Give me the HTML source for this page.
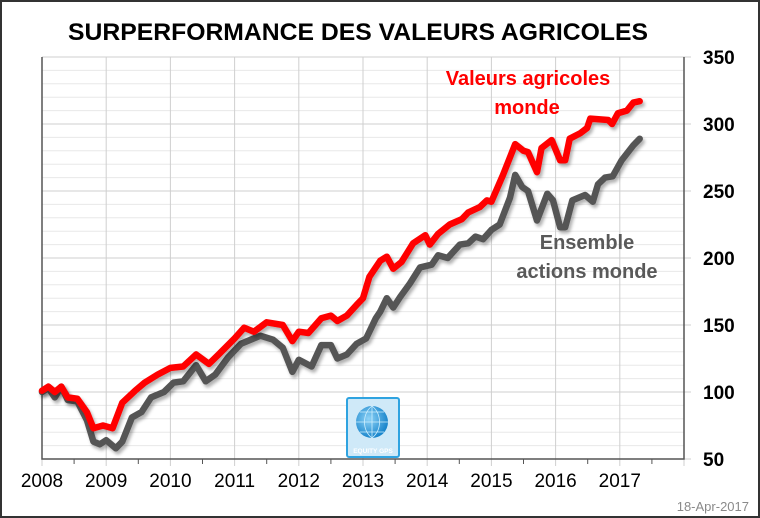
<!DOCTYPE html>
<html><head><meta charset="utf-8"><style>
body{margin:0;background:#fff;}
svg{display:block;font-family:"Liberation Sans",Arial,sans-serif;}
</style></head><body>
<svg id="chart" width="760" height="518" viewBox="0 0 760 518">
<defs><filter id="sh" x="-5%" y="-5%" width="110%" height="110%"><feDropShadow dx="2" dy="3" stdDeviation="1.5" flood-color="#000" flood-opacity="0.3"/></filter>
<radialGradient id="globe" cx="40%" cy="40%" r="60%"><stop offset="0" stop-color="#8fd3f7"/><stop offset="1" stop-color="#1a86cc"/></radialGradient></defs>
<rect x="1" y="1" width="758" height="516" fill="#fff" stroke="#333" stroke-width="2"/>
<text x="358" y="40" text-anchor="middle" font-size="24" font-weight="bold" fill="#000" textLength="580" lengthAdjust="spacingAndGlyphs">SURPERFORMANCE DES VALEURS AGRICOLES</text>
<g id="grid"></g><g id="axes"></g>
<g>
<rect x="347" y="398" width="52" height="59" rx="2" fill="#cfe9f8" stroke="#2fa3e0" stroke-width="2"/>
<circle cx="372" cy="422" r="16" fill="url(#globe)"/>
<path d="M356 422h32M372 406v32M360 412h24M360 432h24M372 406c-10 8-10 24 0 32M372 406c10 8 10 24 0 32" stroke="#cdeefd" stroke-width="0.8" fill="none"/>
<text x="373" y="453" text-anchor="middle" font-size="6.5" font-weight="bold" fill="#fff">EQUITY GPS</text></g>
<g id="series"></g>
<text x="528" y="85" text-anchor="middle" font-size="20" font-weight="bold" fill="#ff0000">Valeurs agricoles</text>
<text x="527" y="114" text-anchor="middle" font-size="20" font-weight="bold" fill="#ff0000">monde</text>
<text x="587" y="249" text-anchor="middle" font-size="20" font-weight="bold" fill="#595959">Ensemble</text>
<text x="587" y="278" text-anchor="middle" font-size="20" font-weight="bold" fill="#595959">actions monde</text>
<text x="749" y="511" text-anchor="end" font-size="13" fill="#8a8a8a">18-Apr-2017</text>
</svg>
<script>
const yTicks=[50,100,150,200,250,300,350];
const xYears=[2008,2009,2010,2011,2012,2013,2014,2015,2016,2017];
const agriX=[2008.0,2008.1,2008.2,2008.3,2008.4,2008.55,2008.7,2008.8,2008.95,2009.1,2009.25,2009.45,2009.6,2009.8,2010.0,2010.2,2010.4,2010.6,2010.75,2011.0,2011.15,2011.3,2011.5,2011.75,2011.9,2012.0,2012.15,2012.35,2012.5,2012.6,2012.75,2012.9,2013.0,2013.1,2013.27,2013.37,2013.47,2013.6,2013.78,2013.97,2014.04,2014.17,2014.35,2014.54,2014.64,2014.82,2014.93,2015.0,2015.18,2015.37,2015.5,2015.57,2015.71,2015.78,2015.94,2016.07,2016.15,2016.22,2016.38,2016.49,2016.54,2016.82,2016.88,2016.97,2017.11,2017.21,2017.31];
const agriY=[101,104,100,104,96,95,85,73,75,73,92,101,107,113,118,119,128,121,128,140,148,145,152,150,138,145,144,155,157,153,157,165,170,186,198,201,192,197,211,217,210,218,225,229,234,238,243,242,262,285,280,279,264,282,288,273,273,289,293,297,304,303,300,308,310,316,317];
const worldX=[2008.0,2008.1,2008.2,2008.3,2008.4,2008.55,2008.7,2008.8,2008.9,2009.0,2009.15,2009.25,2009.4,2009.55,2009.7,2009.9,2010.05,2010.2,2010.4,2010.55,2010.7,2010.9,2011.1,2011.4,2011.6,2011.75,2011.9,2012.0,2012.2,2012.35,2012.5,2012.6,2012.75,2012.9,2013.05,2013.2,2013.27,2013.37,2013.47,2013.58,2013.73,2013.89,2014.07,2014.17,2014.32,2014.51,2014.64,2014.75,2014.87,2015.0,2015.13,2015.29,2015.37,2015.48,2015.57,2015.71,2015.87,2015.96,2016.07,2016.15,2016.26,2016.46,2016.58,2016.66,2016.77,2016.89,2017.03,2017.21,2017.31];
const worldY=[100,103,96,104,94,93,79,63,61,64,58,63,81,85,96,100,107,108,120,108,113,126,136,142,139,133,115,124,119,135,135,125,128,136,140,155,160,170,163,171,181,193,195,202,200,210,211,216,214,221,225,245,262,253,250,228,248,243,223,223,243,247,242,255,260,261,273,284,289];
const L=42,R=684,T=57,B=459;
const xs=v=>L+(v-2008)*(R-L)/10;
const ys=v=>B-(v-50)*(B-T)/300;
const NS="http://www.w3.org/2000/svg";
function mk(tag,attrs,parent){const e=document.createElementNS(NS,tag);for(const k in attrs)e.setAttribute(k,attrs[k]);parent.appendChild(e);return e;}
const grid=document.getElementById('grid'),axes=document.getElementById('axes'),ser=document.getElementById('series');
for(let v=50;v<=350;v+=10){if(v%50===0)continue;const g=mk('line',{x1:L,x2:R,y1:ys(v),y2:ys(v),stroke:'#e8e8e8','stroke-width':1},grid);

}
yTicks.forEach(v=>{const g=mk('line',{x1:L,x2:R+7,y1:ys(v),y2:ys(v),stroke:'#cfcfcf','stroke-width':1},grid);


const t=mk('text',{x:703,y:ys(v)+7,'font-size':19,'font-weight':'bold',fill:'#000'},axes);t.textContent=v;

});
xYears.concat([2018]).forEach(yr=>{const g=mk('line',{x1:xs(yr),x2:xs(yr),y1:T,y2:B+7,stroke:'#cfcfcf','stroke-width':1},grid);


if(yr<2018){const h=mk('line',{x1:xs(yr+0.5),x2:xs(yr+0.5),y1:B,y2:B+5,stroke:'#555'},axes);

}});
xYears.forEach(yr=>{const t=mk('text',{x:xs(yr),y:487,'text-anchor':'middle','font-size':19,fill:'#000'},axes);t.textContent=yr;

});
const ax=mk('path',{d:`M${L} ${T}V${B}H${R}V${T}`,fill:'none',stroke:'#555','stroke-width':1.5},axes);


function line(X,Y,color,name){const d=X.map((x,i)=>(i?'L':'M')+xs(x).toFixed(1)+' '+ys(Y[i]).toFixed(1)).join('');
const p=mk('path',{d,fill:'none',stroke:color,'stroke-width':6.5,'stroke-linejoin':'round','stroke-linecap':'round',filter:'url(#sh)'},ser);

}
line(worldX,worldY,'#555555','world-equities-line');
line(agriX,agriY,'#ff0000','agri-equities-line');
</script>
</body></html>
